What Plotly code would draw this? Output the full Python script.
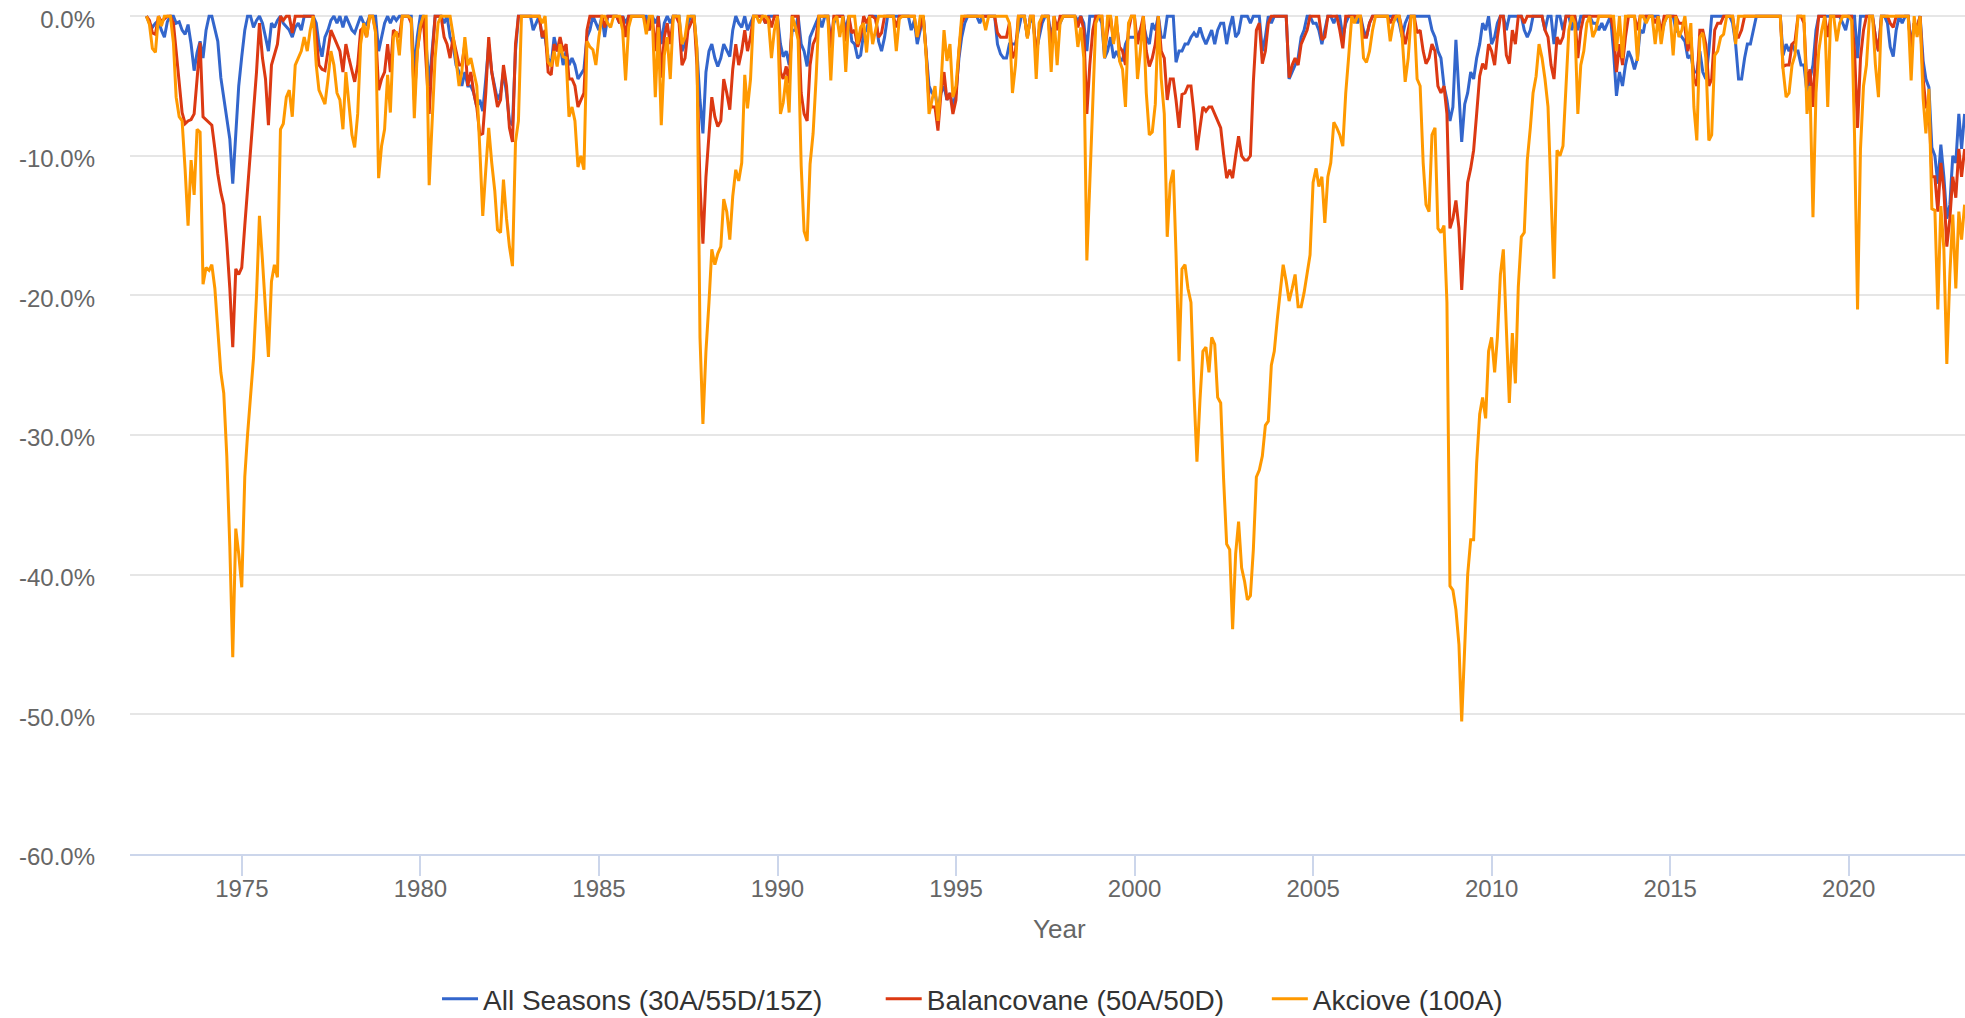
"""Drawdown chart: All Seasons vs. balanced vs. equity portfolio (monthly)."""

import pandas as pd
import plotly.graph_objects as go

# month-end drawdowns in %, first value = April 1972, last value = March 2023
all_seasons = [
    0, -0.5, -0.8, -0.5, -0.3, -1.0, -1.5, -0.4, 0,                          # 1972 (Apr-Dec)
    0, -0.5, -0.4, -1.0, -1.3, -0.6, -2.0, -3.9, -2.6, -1.8, -3.0, -1.0,     # 1973
    0, 0, -1.0, -1.8, -4.4, -5.8, -7.2, -8.8, -12.0, -8.8, -5.0, -2.9,       # 1974
    -1.0, 0, 0, -0.8, -0.3, 0, -0.5, -1.5, -2.5, -0.5, -0.8, -0.3,           # 1975
    0, -0.5, -0.8, -1.0, -1.5, -0.8, -0.5, -1.0, 0, 0, 0, 0,                 # 1976
    -0.5, -2.0, -2.9, -1.5, -1.0, -0.3, 0, -0.5, 0, -0.8, 0, -0.5,           # 1977
    -1.0, -1.2, -0.5, 0, -0.5, -0.6, 0, 0, 0, -2.5, -1.5, -0.5,              # 1978
    0, -0.5, 0, -0.3, 0, 0, 0, 0, 0, -4.0, -1.5, 0,                          # 1979
    0, -2.0, -5.0, -2.5, 0, 0, 0, -0.5, 0, -1.5, -2.0, -3.5,                 # 1980
    -4.0, -5.0, -4.0, -5.0, -5.0, -5.5, -6.5, -6.0, -6.8, -4.5, -2.0, -4.0,  # 1981
    -5.0, -6.0, -5.5, -4.0, -5.5, -7.5, -7.8, -2.5, 0, 0, 0, 0,              # 1982
    0, -1.0, -0.5, 0, -1.5, -1.5, -3.0, -3.5, -1.5, -2.5, -2.0, -3.5,        # 1983
    -2.5, -3.5, -3.0, -3.5, -4.5, -4.2, -3.8, -1.5, -1.0, 0, -0.5, -1.0,     # 1984
    0, -1.5, 0, 0, 0, 0, -0.5, 0, -0.5, 0, 0, 0,                             # 1985
    0, 0, 0, 0, -1.0, 0, -0.5, 0, -2.0, -0.5, 0, -0.5,                       # 1986
    0, 0, 0, -2.5, -2.0, -0.5, 0, 0, -2.5, -6.0, -8.4, -4.0,                 # 1987
    -2.5, -2.0, -3.0, -3.6, -3.0, -2.0, -2.5, -2.9, -1.0, 0, -0.5, -0.8,     # 1988
    0, -1.0, -0.5, 0, 0, 0, 0, -0.5, 0, 0, 0, 0,                             # 1989
    -2.0, -2.9, -2.5, -3.5, -1.0, -1.0, 0, -2.0, -2.5, -3.6, -1.5, -1.0,     # 1990
    -0.5, 0, -0.8, 0, 0, -1.8, -0.5, 0, 0, 0, -1.0, 0,                       # 1991
    -1.8, -2.0, -3.0, -2.8, -1.2, -1.0, 0, 0, 0, -1.8, -2.5, -1.5,           # 1992
    0, 0, 0, 0, 0, 0, 0, 0, -1.0, -0.3, -2.0, -1.0,                          # 1993
    0, -2.5, -5.0, -5.5, -5.5, -6.7, -5.5, -5.0, -6.0, -5.5, -6.5, -5.5,     # 1994
    -3.0, -1.5, -0.5, 0, 0, 0, 0, -0.5, 0, 0, 0, 0,                          # 1995
    0, -2.0, -2.7, -3.0, -3.0, -2.0, -2.0, -2.0, -1.0, 0, 0, -1.5,           # 1996
    0, -0.5, -2.5, -1.5, -0.5, 0, 0, -1.5, -0.5, -0.5, -0.5, 0,              # 1997
    0, 0, 0, 0, -0.3, 0, -0.5, -2.5, 0, 0, 0, 0,                             # 1998
    -0.5, -3.0, -2.5, -1.5, -3.0, -2.5, -3.0, -3.2, -2.0, -1.5, -1.5, -1.5,  # 1999
    -1.5, -1.0, -0.5, -1.5, -2.0, -0.5, -1.0, 0, -1.5, -1.5, 0, 0,           # 2000
    0, -3.3, -2.5, -2.5, -2.0, -2.0, -1.5, -1.2, -1.5, -0.8, -1.5, -2.0,     # 2001
    -1.5, -1.0, -2.0, -1.0, -0.5, -0.5, -2.0, -0.8, 0, -1.5, -1.2, 0,        # 2002
    0, 0, -0.5, 0, 0, 0, -2.5, -1.5, 0, -0.5, 0, 0,                          # 2003
    0, 0, 0, -4.5, -4.0, -3.5, -3.0, -1.5, -1.0, 0, 0, -0.5,                 # 2004
    -0.5, -1.0, -2.0, -1.0, 0, 0, -0.5, 0, 0, -1.5, -0.5, 0,                 # 2005
    0, 0, -0.5, 0, -1.0, -1.5, -0.5, 0, 0, 0, 0, 0,                          # 2006
    0, 0, 0, 0, -0.5, -1.5, -0.5, 0, 0, 0, 0, 0,                             # 2007
    0, 0, 0, -1.0, -1.5, -2.5, -3.0, -5.0, -6.0, -7.5, -6.5, -1.7,           # 2008
    -5.6, -9.0, -6.3, -5.5, -4.0, -4.5, -3.0, -2.0, -0.5, -1.0, 0, -2.0,     # 2009
    -1.5, -0.5, 0, 0, -1.0, 0, 0, 0, 0, 0, -1.0, -1.5,                       # 2010
    -1.0, 0, 0, 0, 0, -1.0, 0, 0, -2.0, 0, 0, -1.0,                          # 2011
    0, 0, -1.0, 0, -1.0, 0, 0, 0, 0, -0.5, -0.5, -1.0,                       # 2012
    -0.5, -1.0, -0.5, 0, -2.5, -5.7, -4.0, -5.0, -3.5, -2.5, -3.0, -3.8,     # 2013
    -3.0, -1.0, -1.2, 0, 0, 0, 0, 0, -1.5, -0.5, 0, 0,                       # 2014
    0, -1.0, -1.2, -1.5, -1.8, -3.0, -2.8, -4.0, -4.0, -2.5, -4.0, -4.5,     # 2015
    -2.5, 0, 0, 0, 0, 0, 0, 0, -0.5, -2.0, -4.5, -4.5,                       # 2016
    -3.0, -2.0, -2.0, -1.0, 0, 0, 0, 0, 0, 0, 0, 0,                          # 2017
    0, -2.8, -2.0, -2.5, -2.0, -2.5, -2.5, -3.5, -3.5, -5.5, -4.5, -3.5,     # 2018
    -1.0, 0, 0, 0, 0, 0, 0, 0, 0, -0.5, -1.0, 0,                             # 2019
    0, 0, -3.0, 0, 0, 0, 0, 0, -1.5, -2.5, 0, 0,                             # 2020
    -0.5, -2.2, -2.9, -1.0, 0, -0.5, 0, 0, -2.2, -0.5, -0.8, 0,              # 2021
    -3.2, -4.5, -5.1, -9.4, -10.0, -12.0, -9.2, -11.5, -14.5, -13.5, -10.0, -10.5,  # 2022
    -7.0, -9.5, -7.0,                                                        # 2023 (Jan-Mar)
]

balancovane = [
    0, -0.3, -1.2, -1.3, 0, -0.4, -0.2, 0, 0,                                # 1972
    -0.5, -2.5, -4.5, -6.9, -7.7, -7.5, -7.4, -7.0, -4.5, -1.9, -7.2, -7.4,  # 1973
    -7.6, -7.8, -9.5, -11.3, -12.6, -13.5, -16.2, -19.5, -23.7, -18.1, -18.5, -18.0,  # 1974
    -15.0, -12.5, -9.5, -7.0, -4.0, -0.5, -3.0, -4.5, -7.8, -3.5, -2.8, -2.0,  # 1975
    0, -0.3, 0, 0, -1.2, 0, 0, 0, 0, 0, 0, 0,                                # 1976
    -1.5, -3.5, -3.8, -3.9, -2.5, -1.0, -1.5, -2.0, -2.5, -4.0, -2.0, -3.0,  # 1977
    -3.8, -4.7, -3.5, -1.0, -0.8, -1.5, 0, 0, -1.0, -5.3, -4.5, -4.0,        # 1978
    -2.0, -4.0, -1.0, -1.2, -1.5, 0, 0, 0, -0.5, -6.0, -2.5, -1.0,           # 1979
    0, -3.5, -7.0, -3.0, 0, 0, 0, -1.5, -2.0, -3.0, -1.5, -2.5,              # 1980
    -3.5, -3.5, -2.0, -5.0, -4.0, -5.5, -6.5, -8.5, -8.4, -5.5, -1.5, -4.0,  # 1981
    -5.5, -6.5, -6.0, -3.5, -5.0, -8.0, -9.0, -2.0, 0, 0, 0, 0,              # 1982
    0, 0, 0, 0, -1.5, -1.0, -4.0, -4.2, -2.0, -2.5, -1.5, -2.5,              # 1983
    -2.0, -4.5, -4.5, -5.0, -6.5, -6.0, -5.5, -1.0, 0, 0, 0, 0,              # 1984
    0, -0.8, 0, 0, 0, 0, -0.5, 0, -1.5, 0, 0, 0,                             # 1985
    0, 0, 0, -0.5, -1.0, 0, -2.5, 0, -4.4, -1.5, -0.5, -2.0,                 # 1986
    0, 0, -0.5, -3.5, -3.0, -1.0, -0.5, 0, -3.5, -12.0, -16.3, -11.5,        # 1987
    -8.5, -5.8, -7.2, -7.9, -7.5, -4.5, -5.5, -6.7, -3.8, -2.0, -3.5, -2.5,  # 1988
    -1.0, -2.5, -1.5, 0, 0, 0, 0, -0.5, 0, -0.8, 0, 0,                       # 1989
    -4.0, -4.5, -3.6, -4.8, 0, 0, 0, -5.5, -7.0, -7.5, -3.5, -2.0,           # 1990
    -1.5, 0, 0, 0, 0, -2.3, 0, 0, 0, 0, -1.8, 0,                             # 1991
    -1.2, -1.0, -2.2, -1.5, 0, -0.5, 0, 0, -0.2, -1.5, -1.2, 0,              # 1992
    0, 0, 0, -0.8, 0, 0, 0, 0, 0, 0, -1.5, -0.8,                             # 1993
    0, -2.5, -6.2, -6.5, -6.5, -8.2, -5.5, -4.0, -6.0, -5.5, -7.0, -6.0,     # 1994
    -2.5, -0.5, 0, 0, 0, 0, 0, 0, 0, 0, 0, 0,                                # 1995
    0, -1.2, -1.5, -1.5, -1.5, -0.5, -3.0, -2.5, 0, 0, 0, -1.5,              # 1996
    0, 0, -3.0, -1.0, 0, 0, 0, -2.5, 0, -1.0, 0, 0,                          # 1997
    0, 0, 0, 0, -0.8, 0, -1.0, -7.0, -3.5, -1.0, 0, 0,                       # 1998
    0, -2.5, -1.0, 0, -1.8, -0.5, -2.2, -2.5, -3.5, -1.0, 0, 0,              # 1999
    -2.0, -1.0, 0, -2.5, -3.6, -3.0, -2.0, 0, -2.5, -3.0, -6.0, -4.5,        # 2000
    -4.5, -6.0, -8.0, -5.6, -5.5, -5.0, -5.0, -7.0, -9.6, -8.0, -6.5, -6.8,  # 2001
    -6.5, -6.5, -7.0, -7.5, -8.0, -9.9, -11.6, -11.0, -11.6, -10.0, -8.6, -10.0,  # 2002
    -10.3, -10.3, -10.0, -4.7, -1.0, -0.5, -3.4, -2.5, -0.5, 0, 0, 0,        # 2003
    0, 0, 0, -4.4, -3.5, -3.0, -3.5, -2.0, -1.5, -1.0, 0, 0,                 # 2004
    0, 0, -1.7, -1.5, 0, 0, 0, 0, -1.0, -2.3, 0, 0,                          # 2005
    0, 0, 0, 0, -1.5, -1.5, -0.5, 0, 0, 0, 0, 0,                             # 2006
    0, -0.5, 0, 0, 0, -1.0, -2.0, -1.0, 0, 0, -1.2, -1.0,                    # 2007
    -2.5, -3.4, -3.0, -2.0, -2.5, -5.0, -5.5, -5.0, -7.0, -15.2, -14.5, -13.2,  # 2008
    -15.2, -19.6, -15.2, -11.9, -10.9, -9.6, -7.0, -4.3, -3.4, -3.8, -2.0, -2.5,  # 2009
    -3.5, -1.5, 0, 0, -2.8, -3.4, -1.0, -2.0, 0, 0, -0.5, 0,                 # 2010
    0, 0, 0, 0, 0, -1.0, -1.5, -3.5, -4.5, -1.5, -2.0, -1.5,                 # 2011
    0, 0, 0, 0, -3.0, -1.0, 0, 0, 0, 0, 0, 0,                                # 2012
    0, 0, 0, 0, -1.0, -4.0, -2.0, -3.5, -1.5, 0, 0, 0,                       # 2013
    -1.0, 0, 0, 0, 0, 0, -0.5, 0, -1.2, 0, 0, 0,                             # 2014
    0, 0, -0.5, -0.5, -0.8, -2.5, -1.5, -4.5, -5.0, -1.0, -1.0, -2.0,        # 2015
    -5.0, -4.5, -1.0, -0.5, -0.5, 0, 0, 0, 0, -1.5, -1.5, -1.0,              # 2016
    0, 0, 0, 0, 0, 0, 0, 0, 0, 0, 0, 0,                                      # 2017
    0, -3.6, -3.5, -3.5, -2.0, -1.8, 0, 0, -0.5, -5.0, -3.8, -6.5,           # 2018
    -2.0, 0, 0, 0, -1.5, 0, 0, 0, 0, 0, 0, 0,                                # 2019
    0, -2.5, -8.0, -3.0, -1.0, 0, 0, 0, -1.5, -2.5, 0, 0,                    # 2020
    0, -0.5, -0.8, 0, 0, 0, 0, 0, -2.5, -0.5, -0.8, 0,                       # 2021
    -4.5, -6.5, -6.5, -11.5, -11.5, -14.0, -10.5, -12.5, -16.5, -14.5, -11.5, -13.0,  # 2022
    -9.5, -11.5, -9.5,                                                       # 2023
]

akciove = [
    0, -0.6, -2.3, -2.6, 0, -0.7, 0, 0, 0,                                   # 1972
    -1.9, -5.8, -7.2, -7.5, -11.0, -15.0, -10.3, -12.8, -8.1, -8.3, -19.2, -18.0,  # 1973
    -18.2, -17.8, -19.5, -22.5, -25.5, -27.0, -31.5, -38.0, -45.9, -36.7, -38.5, -40.9,  # 1974
    -33.0, -30.0, -27.0, -24.5, -20.0, -14.3, -17.5, -21.0, -24.4, -19.0, -17.8, -18.7,  # 1975
    -8.1, -7.7, -5.8, -5.3, -7.2, -3.5, -3.0, -2.5, -1.5, -2.5, -1.0, 0,     # 1976
    -3.5, -5.3, -5.8, -6.3, -4.5, -2.5, -3.5, -5.5, -6.0, -8.1, -4.0, -6.5,  # 1977
    -8.5, -9.4, -7.0, -2.0, -0.5, -1.5, 0, 0, -1.2, -11.6, -9.3, -8.1,       # 1978
    -4.2, -6.9, -1.5, -1.1, -2.8, 0, 0, 0, -0.2, -7.3, -2.6, -0.7,           # 1979
    0, 0, -12.1, -8.0, -3.0, -0.5, 0, 0, 0, 0, -1.3, -3.4,                   # 1980
    -5.0, -4.0, -1.5, -3.5, -3.0, -4.0, -5.0, -9.5, -14.3, -11.0, -8.0, -10.5,  # 1981
    -12.5, -15.3, -15.5, -11.7, -14.5, -16.5, -17.9, -9.0, -7.5, 0, 0, 0,    # 1982
    0, 0, 0, 0, -0.5, 0, -3.3, -3.6, -2.5, -3.6, -2.0, -2.9,                 # 1983
    -3.0, -7.2, -6.5, -7.5, -10.8, -10.0, -11.0, -1.8, -2.2, -2.4, -3.5, -1.5,  # 1984
    0, 0, -0.5, -0.8, 0, 0, 0, -1.0, -4.6, -0.8, 0, 0,                       # 1985
    0, 0, 0, -1.3, 0, 0, -5.8, -0.8, -7.8, -2.8, -1.5, -4.5,                 # 1986
    0, 0, 0, -2.0, -1.5, 0, 0, 0, -2.3, -23.0, -29.2, -24.0,                 # 1987
    -20.5, -16.7, -17.8, -17.0, -16.5, -13.1, -14.0, -16.0, -12.9, -11.0, -11.8, -10.5,  # 1988
    -4.2, -6.6, -4.5, 0, 0, -0.5, 0, 0, -0.3, -3.0, -1.0, 0,                 # 1989
    -7.0, -6.2, -4.3, -6.9, 0, -0.7, -1.7, -10.7, -15.4, -16.1, -10.6, -8.4,  # 1990
    -4.4, 0, 0, 0, 0, -4.6, -0.3, 0, -1.5, 0, -4.0, 0,                       # 1991
    0, 0, -2.0, -0.8, -0.5, -2.6, 0, -2.0, -1.0, 0, 0, 0,                    # 1992
    0, 0, 0, -2.5, -0.2, 0, 0, 0, 0, 0, -1.5, 0,                             # 1993
    0, -2.7, -7.0, -6.0, -5.0, -7.5, -5.0, -1.0, -3.2, -2.0, -5.8, -5.0,     # 1994
    -2.5, 0, 0, 0, 0, 0, 0, 0, 0, -1.0, 0, 0,                                # 1995
    0, 0, 0, 0, 0, -0.5, -5.5, -3.5, 0, 0, 0, -1.6,                          # 1996
    0, 0, -4.5, -0.5, 0, 0, 0, -4.0, 0, -3.5, -0.5, 0,                       # 1997
    0, 0, 0, 0, -2.2, -0.8, -3.0, -17.5, -12.0, -5.5, -0.5, 0,               # 1998
    0, -3.0, 0, 0, -2.0, 0, -3.2, -3.8, -6.5, -0.5, 0, 0,                    # 1999
    -4.5, -2.5, 0, -5.5, -8.5, -8.3, -6.3, 0, -4.5, -7.0, -15.8, -12.0,      # 2000
    -11.0, -17.0, -24.7, -18.1, -17.8, -19.5, -20.5, -27.0, -31.9, -27.5, -24.0, -23.7,  # 2001
    -25.5, -23.0, -23.5, -27.3, -27.7, -33.2, -37.8, -38.2, -43.9, -38.5, -36.2, -39.5,  # 2002
    -40.5, -41.8, -41.5, -38.2, -33.0, -32.5, -31.5, -29.3, -29.0, -25.0, -24.0, -21.7,  # 2003
    -19.5, -17.8, -19.0, -20.4, -19.5, -18.5, -20.8, -20.8, -19.8, -18.5, -17.1, -11.9,  # 2004
    -10.9, -12.2, -11.5, -14.8, -11.5, -10.5, -7.6, -8.0, -8.5, -9.3, -5.5, -2.8,  # 2005
    0, -0.5, 0, 0, -3.0, -3.3, -2.5, -1.0, 0, 0, 0, 0,                       # 2006
    0, -1.8, -0.5, 0, 0, -1.5, -4.7, -3.0, 0, 0, -4.5, -5.0,                 # 2007
    -10.5, -13.5, -14.0, -8.5, -8.0, -15.2, -15.5, -15.0, -20.5, -40.8, -41.1, -42.5,  # 2008
    -45.0, -50.5, -45.5, -40.0, -37.5, -37.5, -32.0, -28.5, -27.3, -28.8, -24.0, -23.0,  # 2009
    -25.5, -23.0, -18.5, -16.7, -22.4, -27.7, -22.7, -26.3, -19.4, -15.8, -15.5, -10.3,  # 2010
    -8.0, -5.5, -4.3, -2.0, -3.0, -4.5, -6.5, -12.5, -18.8, -9.6, -10.0, -9.3,  # 2011
    -5.3, -1.0, 0, -0.5, -7.0, -3.5, -2.5, -0.5, 0, -1.5, -1.0, 0,           # 2012
    0, 0, 0, 0, 0, -2.5, 0, -3.0, 0, 0, 0, 0,                                # 2013
    -3.2, 0, 0, -0.5, 0, 0, -2.0, 0, -2.0, -0.5, 0, 0,                       # 2014
    -2.8, 0, -1.5, -1.0, 0, -2.0, -0.5, -6.5, -8.9, -1.5, -1.2, -3.0,        # 2015
    -8.9, -8.5, -2.8, -2.5, -1.5, -1.3, 0, 0, 0, -2.0, 0, 0,                 # 2016
    0, 0, 0, 0, 0, 0, 0, 0, 0, 0, 0, 0,                                      # 2017
    0, -3.8, -5.8, -5.5, -3.5, -2.8, 0, 0, 0, -7.0, -5.0, -14.4,             # 2018
    -5.5, -2.5, -1.0, 0, -6.5, 0, 0, -1.8, -0.5, 0, 0, 0,                    # 2019
    -0.3, -8.5, -21.0, -9.5, -5.0, -3.5, 0, 0, -3.5, -5.8, 0, 0,             # 2020
    0, 0, 0, 0, 0, 0, 0, 0, -4.6, 0, -1.5, 0,                                # 2021
    -5.9, -8.4, -5.2, -13.8, -13.9, -21.0, -13.6, -16.7, -24.9, -18.5, -14.2, -19.5,  # 2022
    -14.0, -16.0, -13.5,                                                     # 2023
]

series_names = ["All Seasons (30A/55D/15Z)", "Balancovane (50A/50D)", "Akciove (100A)"]
series_colors = ["#3366cc", "#dc3912", "#ff9900"]

y_ticks = [0, -10, -20, -30, -40, -50, -60]
y_labels = ["0.0%", "-10.0%", "-20.0%", "-30.0%", "-40.0%", "-50.0%", "-60.0%"]
x_ticks = ["1975-01-01", "1980-01-01", "1985-01-01", "1990-01-01", "1995-01-01",
           "2000-01-01", "2005-01-01", "2010-01-01", "2015-01-01", "2020-01-01"]
x_labels = ["1975", "1980", "1985", "1990", "1995", "2000", "2005", "2010", "2015", "2020"]

assert len(all_seasons) == len(balancovane) == len(akciove)

# month-end dates
dates = pd.date_range("1972-04-01", periods=len(akciove), freq="MS") + pd.offsets.MonthEnd(0)

FONT = "Arial, Liberation Sans, sans-serif"

fig = go.Figure()
legend_ids = ["legend", "legend2", "legend3"]
for values, name, color, leg in zip(
    [all_seasons, balancovane, akciove], series_names, series_colors, legend_ids
):
    fig.add_trace(
        go.Scatter(
            x=dates,
            y=values,
            mode="lines",
            name=name,
            line=dict(color=color, width=3),
            legend=leg,
            showlegend=True,
            hovertemplate="%{x|%b %Y}<br>%{y:.1f}%<extra>" + name + "</extra>",
        )
    )

# one legend per entry, so every entry sits where it sits in the original
legend_style = dict(
    orientation="h",
    xref="container",
    yref="container",
    xanchor="left",
    yanchor="middle",
    y=0.0187,
    font=dict(family=FONT, size=28, color="#333333"),
    bgcolor="rgba(0,0,0,0)",
    itemwidth=36,
    itemclick=False,
)

fig.update_layout(
    width=1965,
    height=1018,
    margin=dict(l=130, r=0, t=12, b=164),
    paper_bgcolor="white",
    plot_bgcolor="white",
    showlegend=True,
    font=dict(family=FONT, color="#666666"),
    legend=dict(legend_style, x=0.2224),
    legend2=dict(legend_style, x=0.4482),
    legend3=dict(legend_style, x=0.6447),
    annotations=[
        dict(
            text="Year",
            xref="paper",
            yref="paper",
            x=0.5063,
            y=-0.0891,
            xanchor="center",
            yanchor="middle",
            showarrow=False,
            font=dict(family=FONT, size=26, color="#666666"),
        )
    ],
)

fig.update_xaxes(
    type="date",
    range=["1971-11-14", "2023-04-04"],
    tickmode="array",
    tickvals=x_ticks,
    ticktext=x_labels,
    ticks="outside",
    ticklen=20,
    tickwidth=2,
    tickcolor="#ccd6eb",
    ticklabelstandoff=-8,
    showline=True,
    linecolor="#ccd6eb",
    linewidth=2,
    showgrid=False,
    zeroline=False,
    tickfont=dict(family=FONT, size=24, color="#666666"),
)

fig.update_yaxes(
    range=[-60, 0.3],
    tickmode="array",
    tickvals=y_ticks,
    ticktext=y_labels,
    showgrid=True,
    gridcolor="#e6e6e6",
    gridwidth=2,
    zeroline=False,
    showline=False,
    ticks="",
    ticklabelstandoff=34,
    ticklabelshift=3,
    tickfont=dict(family=FONT, size=24, color="#666666"),
)

fig.write_html(
    "out.html",
    config={"displayModeBar": False},
    post_script="document.body.style.margin = '0';",
)
